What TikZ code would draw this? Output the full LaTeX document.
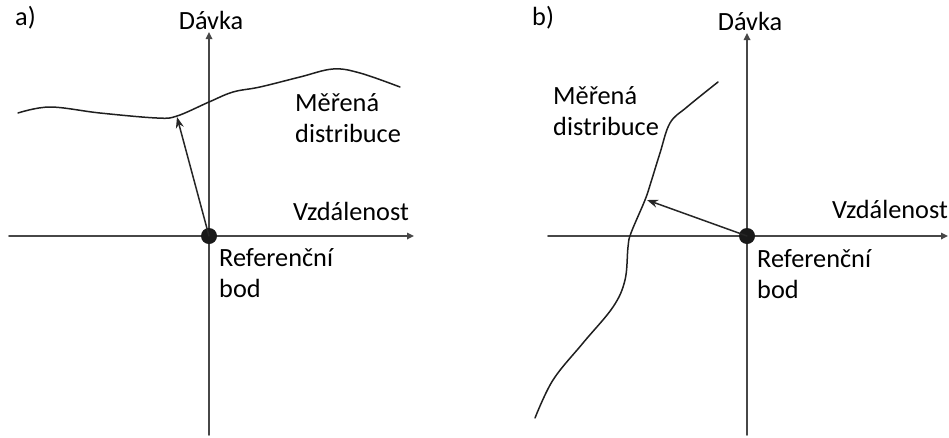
\documentclass[tikz,border=0pt]{standalone}
\usepackage{fontspec}
\setmainfont{Carlito}
\usetikzlibrary{arrows.meta}

\begin{document}
\begin{tikzpicture}[x=1pt, y=-1pt, line cap=round, line join=round,
    axis/.style={line width=1.6pt, draw=black!72, -{Triangle[length=7pt, width=6.5pt]}},
    curve/.style={line width=1.5pt, draw=black!88},
    pointer/.style={line width=1.5pt, draw=black!85, -{Stealth[length=11pt, width=8pt]}},
    refdot/.style={circle, fill=black!90, inner sep=0pt, minimum size=16pt},
    lbl/.style={font=\fontsize{26.3}{31}\selectfont, inner sep=0pt, align=left, anchor=base west}]
  \useasboundingbox (0,0) rectangle (949,437);
  % panel a
  \node[lbl] (tagA) at (15,25) {a)};
  \coordinate (xA0) at (9,236);
  \coordinate (xA1) at (414,236);
  \coordinate (yA0) at (209,435);
  \coordinate (yA1) at (209,32);
  \draw[axis] (xA0) -- (xA1);
  \draw[axis] (yA0) -- (yA1);
  \node[refdot] (refA) at (209,236) {};
  \draw[curve] plot[smooth, tension=0.6] coordinates {(18,113) (50,107) (100,113)
      (157,118) (177,116) (209,102) (233,92) (260,87) (300,77) (333,69) (360,73) (400,87)};
  \coordinate (hitA) at (177,117);
  \draw[pointer] (refA.center) -- (hitA);
  \node[lbl, anchor=base] (doseA) at (211,29) {Dávka};
  \node[lbl] (distA) at (295,142) {Měřená\\distribuce};
  \node[lbl] (distxA) at (293,220) {Vzdálenost};
  \node[lbl] (refLA) at (219,297) {Referenční\\bod};
  % panel b
  \node[lbl] (tagB) at (532,25) {b)};
  \coordinate (xB0) at (548,236);
  \coordinate (xB1) at (948,236);
  \coordinate (yB0) at (747,435);
  \coordinate (yB1) at (747,33);
  \draw[axis] (xB0) -- (xB1);
  \draw[axis] (yB0) -- (yB1);
  \node[refdot] (refB) at (747,236) {};
  \draw[curve] plot[smooth, tension=0.6] coordinates {(535,418) (553,380) (583,343)
      (613,307) (625,280) (628,247) (631,233) (645,200) (651,182) (660,153) (670,123)
      (687,107) (718,82)};
  \coordinate (hitB) at (647,200);
  \draw[pointer] (refB.center) -- (hitB);
  \node[lbl, anchor=base] (doseB) at (750,30) {Dávka};
  \node[lbl] (distB) at (553,135) {Měřená\\distribuce};
  \node[lbl] (distxB) at (832,218) {Vzdálenost};
  \node[lbl] (refLB) at (757,298) {Referenční\\bod};
\end{tikzpicture}
\end{document}
